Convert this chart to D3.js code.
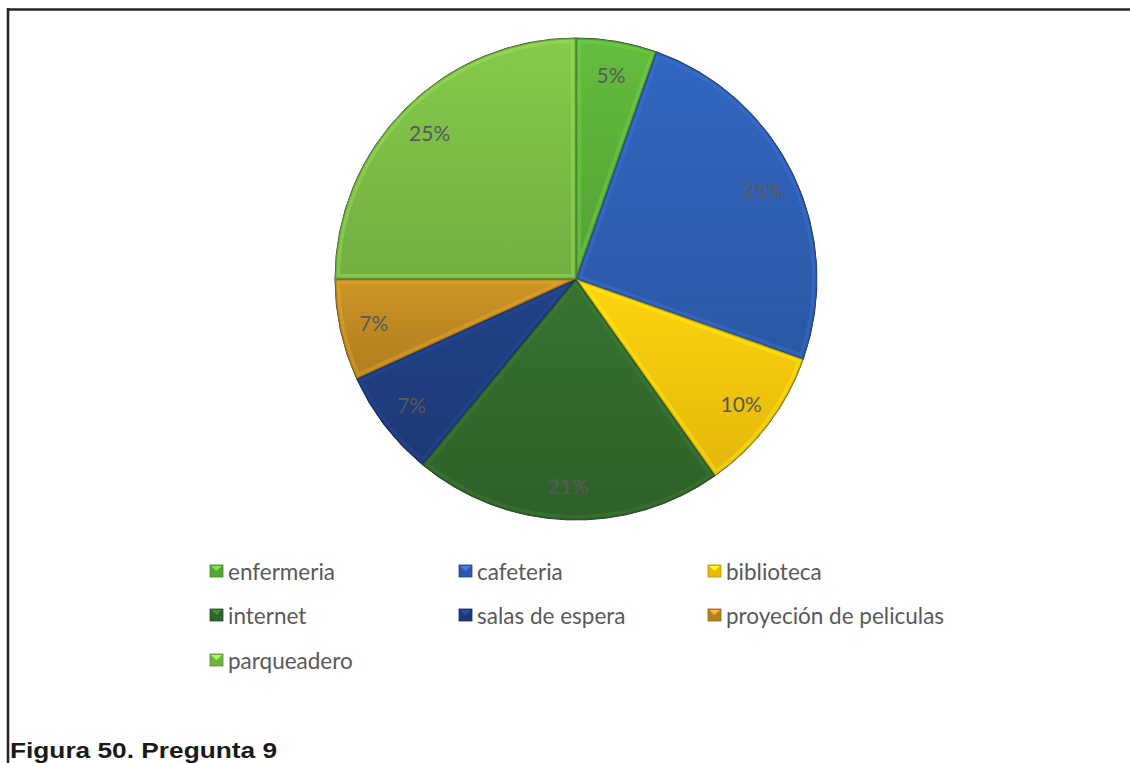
<!DOCTYPE html>
<html><head><meta charset="utf-8">
<script src="https://cdn.jsdelivr.net/npm/d3@7"></script>
<style>body{margin:0;background:#fff}svg{display:block}</style>
</head><body>
<svg id="c" width="1130" height="763"></svg>
<script>
const categories = ["enfermeria","cafeteria","biblioteca","internet","salas de espera","proyeción de peliculas","parqueadero"];
const values = [5.4, 25.0, 9.8, 20.8, 7.2, 6.8, 25.0];
const labels = ["5%","25%","10%","21%","7%","7%","25%"];
const colors = ["#5cb03a","#2f5fb3","#f9c60d","#336a2d","#1f3d80","#bf8a22","#7dbd47"];
const caption = "Figura 50. Pregunta 9";

const svg = d3.select("#c");
const defs = svg.append("defs");

// frame (top and left lines)
svg.append("line").attr("x1",7).attr("x2",1130).attr("y1",9.5).attr("y2",9.5).attr("stroke","#262626").attr("stroke-width",2.6);
svg.append("line").attr("x1",8).attr("x2",8).attr("y1",8).attr("y2",763).attr("stroke","#262626").attr("stroke-width",2.6);

const cx = 576, cy = 279, R = 241;
const pie = d3.pie().sort(null).value(d => d)(values);
const arc = d3.arc().innerRadius(0).outerRadius(R);
const labelArc = d3.arc().innerRadius(207).outerRadius(207);

const g = svg.append("g").attr("transform",`translate(${cx},${cy})`);

pie.forEach((d,i) => {
  const base = d3.color(colors[i]);
  const gr = defs.append("linearGradient").attr("id","g"+i).attr("x1",0).attr("y1",0).attr("x2",0).attr("y2",1);
  gr.append("stop").attr("offset","0%").attr("stop-color", base.brighter(0.2));
  gr.append("stop").attr("offset","100%").attr("stop-color", base.darker(0.25));
  defs.append("clipPath").attr("id","cp"+i).append("path").attr("d",arc(d)).attr("transform",`translate(${cx},${cy})`);
});

pie.forEach((d,i) => {
  const base = d3.color(colors[i]);
  g.append("path").attr("d",arc(d)).attr("fill",`url(#g${i})`);
  svg.append("g").attr("clip-path",`url(#cp${i})`)
    .append("path").attr("transform",`translate(${cx},${cy})`).attr("d",arc(d))
    .attr("fill","none").attr("stroke",base.brighter(0.6)).attr("stroke-width",10).attr("stroke-opacity",0.4)
    .attr("stroke-linejoin","round");
  svg.append("g").attr("clip-path",`url(#cp${i})`)
    .append("path").attr("transform",`translate(${cx},${cy})`).attr("d",arc(d))
    .attr("fill","none").attr("stroke",base.darker(0.7)).attr("stroke-width",3).attr("stroke-opacity",0.6);
});
g.selectAll(".edge").data(pie).join("path").attr("d",arc).attr("fill","none").attr("stroke","#2b2b2b").attr("stroke-width",1);

g.selectAll(".lbl").data(pie).join("text")
  .attr("transform",d => `translate(${labelArc.centroid(d)})`)
  .attr("text-anchor","middle").attr("dominant-baseline","central")
  .attr("font-family","Lato, 'Open Sans', sans-serif").attr("font-size",21).attr("fill","#595959")
  .text((d,i) => labels[i]);

// legend
const colX = [210, 459, 708];
const rowY = [571, 615, 660];
categories.forEach((c,i) => {
  const x = colX[i % 3], y = rowY[Math.floor(i/3)];
  const base = d3.color(colors[i]);
  const lg = svg.append("g").attr("transform",`translate(${x},${y-6})`);
  lg.append("rect").attr("width",13).attr("height",12).attr("fill",base.darker(0.2)).attr("stroke",base.darker(0.8)).attr("stroke-width",0.8);
  lg.append("path").attr("d","M1,1 L12,1 L6.5,6 Z").attr("fill",base.brighter(0.8));
  svg.append("text").attr("x",x+18).attr("y",y).attr("dominant-baseline","central")
    .attr("font-family","Lato, 'Open Sans', sans-serif").attr("font-size",22.5).attr("fill","#595959").text(c);
});

svg.append("text").attr("x",10).attr("y",758).attr("font-family","Arial, 'Liberation Sans', sans-serif")
  .attr("font-weight","bold").attr("font-size",22).attr("fill","#1a1a1a")
  .attr("textLength",267).attr("lengthAdjust","spacingAndGlyphs").text(caption);
</script>
</body></html>
